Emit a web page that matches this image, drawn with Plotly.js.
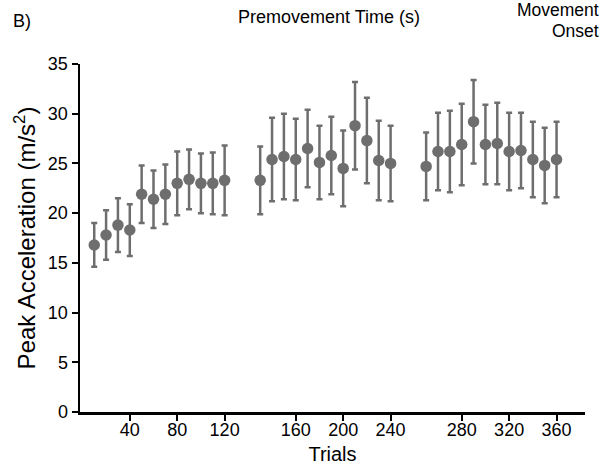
<!DOCTYPE html>
<html>
<head>
<meta charset="utf-8">
<script src="https://cdn.plot.ly/plotly-3.0.1.min.js"></script>
<style>html,body{margin:0;padding:0;background:#fff;}#chart{width:604px;height:473px;}</style>
</head>
<body>
<div id="chart"></div>
<script>
// Trial numbers for each of the three blocks
const trials1 = [10, 20, 30, 40, 50, 60, 70, 80, 90, 100, 110, 120];
const trials2 = [130, 140, 150, 160, 170, 180, 190, 200, 210, 220, 230, 240];
const trials3 = [250, 260, 270, 280, 290, 300, 310, 320, 330, 340, 350, 360];
// Mean peak acceleration (m/s^2)
const mean1 = [16.8, 17.8, 18.8, 18.3, 21.9, 21.4, 21.9, 23.0, 23.4, 23.0, 23.0, 23.3];
const mean2 = [23.3, 25.4, 25.7, 25.4, 26.5, 25.1, 25.8, 24.5, 28.8, 27.3, 25.3, 25.0];
const mean3 = [24.7, 26.2, 26.2, 26.9, 29.2, 26.9, 27.0, 26.2, 26.3, 25.4, 24.8, 25.4];
// Error bar half-widths
const err1 = [2.2, 2.5, 2.7, 2.6, 2.9, 2.9, 3.0, 3.2, 3.0, 3.0, 3.1, 3.5];
const err2 = [3.4, 4.2, 4.3, 4.1, 3.9, 3.7, 3.9, 3.8, 4.4, 4.3, 4.0, 3.8];
const err3 = [3.4, 3.9, 4.1, 4.1, 4.2, 4.0, 4.1, 3.9, 3.8, 3.8, 3.8, 3.8];
// Tick labels
const xTickLabels = [40, 80, 120, 160, 200, 240, 280, 320, 360];
const yTickVals = [0, 5, 10, 15, 20, 25, 30, 35];

// Blocks are drawn with a visual gap between them
const blockGap = 20;
function plotPos(t) {
  const block = t <= 120 ? 0 : (t <= 240 ? 1 : 2);
  return t + block * blockGap;
}

const gray = '#6e6e6e';
function makeTrace(tr, m, e) {
  return {
    type: 'scatter', mode: 'markers',
    x: tr.map(plotPos), y: m,
    error_y: {type: 'data', array: e, visible: true, color: gray, thickness: 2.5, width: 3},
    marker: {color: gray, size: 11.5},
    hoverinfo: 'x+y', showlegend: false
  };
}

const data = [
  makeTrace(trials1, mean1, err1),
  makeTrace(trials2, mean2, err2),
  makeTrace(trials3, mean3, err3)
];

const font = 'Liberation Sans, Arial, Helvetica, sans-serif';
const L = 80, R = 19, T = 64, B = 61;
const layout = {
  width: 604, height: 473,
  margin: {l: L, r: R, t: T, b: B},
  paper_bgcolor: '#fff', plot_bgcolor: '#fff',
  font: {family: font, color: '#000', size: 18},
  xaxis: {
    range: [-2, 424],
    tickmode: 'array',
    tickvals: xTickLabels.map(plotPos),
    ticktext: xTickLabels.map(String),
    ticks: 'outside', ticklen: 6, tickwidth: 2, tickcolor: '#000',
    ticklabelstandoff: -6,
    showline: true, linecolor: '#000', linewidth: 2.5,
    showgrid: false, zeroline: false,
    tickfont: {size: 18},
    title: {text: 'Trials', font: {size: 20}, standoff: 8}
  },
  yaxis: {
    range: [0, 35],
    tickmode: 'array', tickvals: yTickVals,
    ticks: 'outside', ticklen: 6, tickwidth: 2, tickcolor: '#000',
    showline: true, linecolor: '#000', linewidth: 2.5,
    showgrid: false, zeroline: false,
    tickfont: {size: 18},
    title: {text: 'Peak Acceleration (m/s<sup>2</sup>)', font: {size: 24}, standoff: 6}
  },
  annotations: [
    {text: 'B)', xanchor: 'left', yanchor: 'middle', pos: [11, 21], size: 18},
    {text: 'Premovement Time (s)', xanchor: 'center', yanchor: 'middle', pos: [329, 17], size: 18},
    {text: 'Movement', xanchor: 'right', yanchor: 'middle', pos: [601, 10.5], size: 17.5},
    {text: 'Onset', xanchor: 'right', yanchor: 'middle', pos: [601, 30.5], size: 17.5}
  ]
};
// Place header annotations in pixel terms relative to the plot area
const pw = 604 - L - R, ph = 473 - T - B;
layout.annotations = layout.annotations.map(a => {
  const o = Object.assign({}, a);
  o.xref = 'paper'; o.yref = 'paper'; o.showarrow = false;
  o.font = {size: a.size};
  o.x = (a.pos[0] - L) / pw;
  o.y = (473 - B - a.pos[1]) / ph;
  delete o.pos; delete o.size;
  return o;
});

Plotly.newPlot('chart', data, layout, {displayModeBar: false, staticPlot: true});
</script>
</body>
</html>
